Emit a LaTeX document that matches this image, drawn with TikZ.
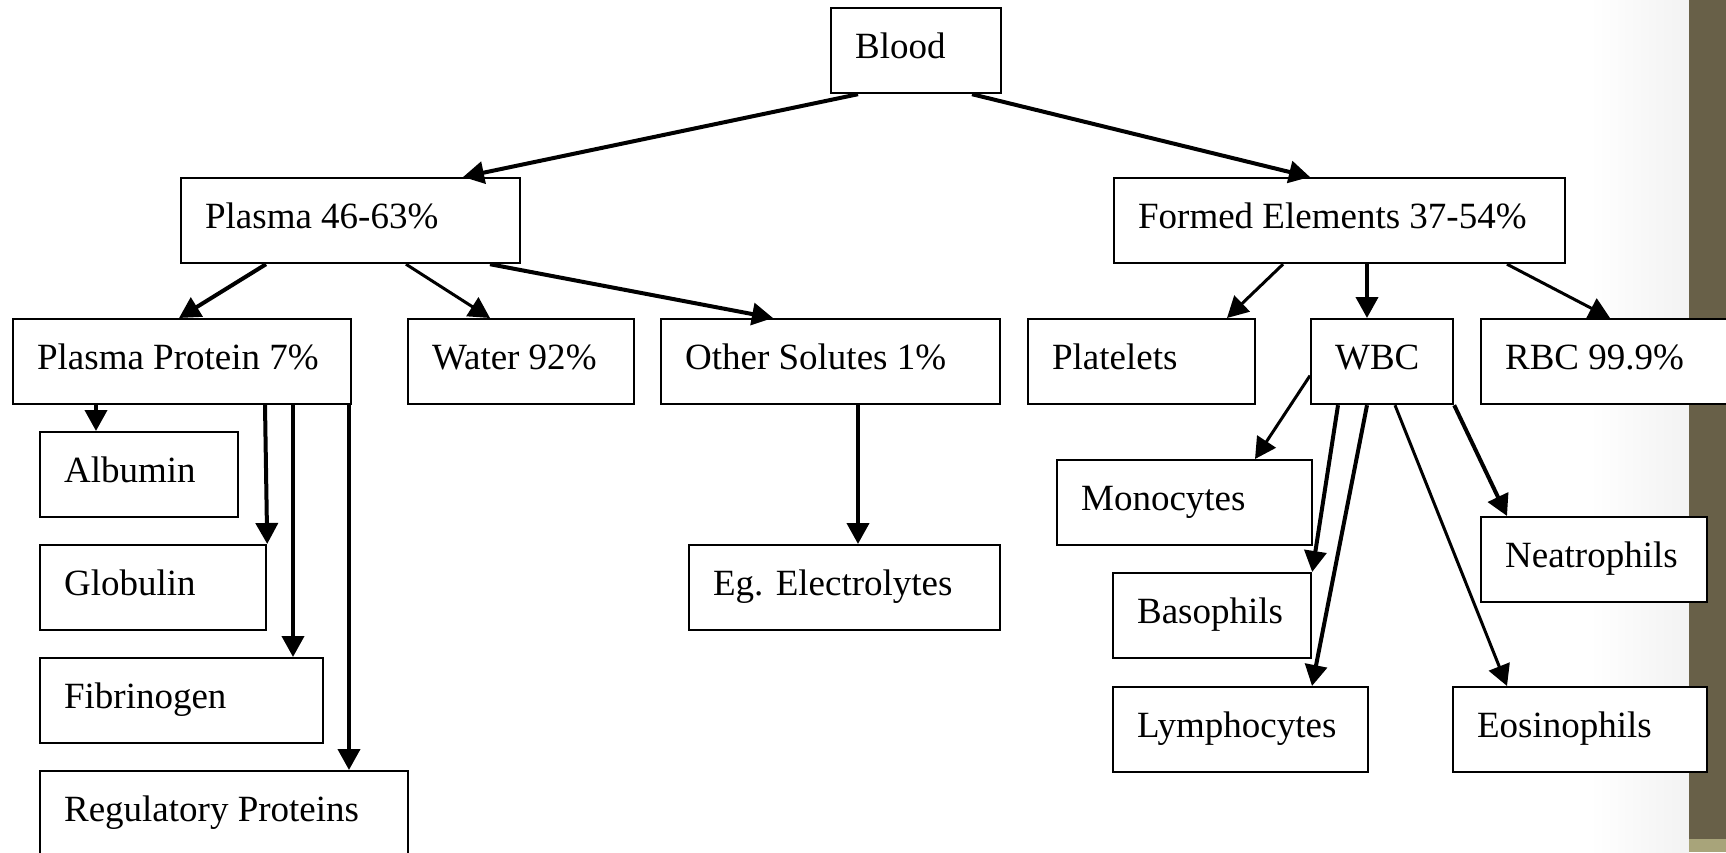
\documentclass[tikz,border=0pt]{standalone}
\usepackage{fontspec}
\setmainfont{Liberation Serif}
\usetikzlibrary{arrows.meta}
\definecolor{oliveA}{RGB}{104,96,72}
\definecolor{oliveB}{RGB}{168,164,122}
\tikzset{
  box/.style={draw, fill=white, line width=2.2pt, anchor=north west, inner xsep=24pt, inner ysep=0pt, minimum height=85pt, text height=25pt, text depth=10pt},
  arr/.style={-{Triangle[width=22pt,length=21pt]}, line width=4pt},
  arrthin/.style={-{Triangle[width=22pt,length=21pt]}, line width=3pt},
}
\newcommand\mkbox[5]{\node[box] (#1) at (#2,#3) {\hbox to \dimexpr#4pt-48pt\relax{#5\hfil}};}
\begin{document}
\begin{tikzpicture}[x=1pt,y=-1pt,font=\fontsize{37}{40}\selectfont]
\clip (0,0) rectangle (1726,852);
\fill[white] (0,0) rectangle (1726,852);
\shade[left color=white,right color=gray!10] (1590,0) rectangle (1689,852);
\fill[oliveA] (1689,0) rectangle (1726,852);
\fill[oliveB] (1689,839) rectangle (1726,852);

\mkbox{blood}{830}{7}{170}{Blood}
\mkbox{plasma}{180}{177}{339}{Plasma 46-63\%}
\mkbox{formed}{1113}{177}{451}{Formed Elements 37-54\%}
\mkbox{pprot}{12}{318}{338}{Plasma Protein 7\%}
\mkbox{water}{407}{318}{226}{Water 92\%}
\mkbox{other}{660}{318}{339}{Other Solutes 1\%}
\mkbox{platelets}{1027}{318}{227}{Platelets}
\mkbox{wbc}{1310}{318}{142}{WBC}
\mkbox{rbc}{1480}{318}{320}{RBC 99.9\%}
\mkbox{albumin}{39}{431}{198}{Albumin}
\mkbox{globulin}{39}{544}{226}{Globulin}
\mkbox{fibrinogen}{39}{657}{283}{Fibrinogen}
\mkbox{regulatory}{39}{770}{368}{Regulatory Proteins}
\mkbox{electrolytes}{688}{544}{311}{Eg. Electrolytes}
\mkbox{monocytes}{1056}{459}{255}{Monocytes}
\mkbox{basophils}{1112}{572}{198}{Basophils}
\mkbox{lymphocytes}{1112}{686}{255}{Lymphocytes}
\mkbox{neatrophils}{1480}{516}{226}{Neatrophils}
\mkbox{eosinophils}{1452}{686}{254}{Eosinophils}

\draw[arr] ([xshift=28pt]blood.south west) -- ([xshift=283pt]plasma.north west);
\draw[arr] ([xshift=142pt]blood.south west) -- ([xshift=197pt]formed.north west);
\draw[arr] ([xshift=86pt]plasma.south west) -- ([xshift=167pt]pprot.north west);
\draw[arrthin] ([xshift=226pt]plasma.south west) -- ([xshift=83pt]water.north west);
\draw[arr] ([xshift=310pt]plasma.south west) -- ([xshift=113pt]other.north west);
\draw[arrthin] ([xshift=170pt]formed.south west) -- ([xshift=200pt]platelets.north west);
\draw[arr] ([xshift=254pt]formed.south west) -- ([xshift=57pt]wbc.north west);
\draw[arrthin] ([xshift=394pt]formed.south west) -- ([xshift=130pt]rbc.north west);
\draw[arr] ([xshift=84pt]pprot.south west) -- ([xshift=57pt]albumin.north west);
\draw[arr] ([xshift=253pt]pprot.south west) -- (globulin.north east);
\draw[arr] ([xshift=281pt]pprot.south west) -- ([xshift=254pt]fibrinogen.north west);
\draw[arr] ([xshift=337pt]pprot.south west) -- ([xshift=310pt]regulatory.north west);
\draw[arr] ([xshift=198pt]other.south west) -- ([xshift=170pt]electrolytes.north west);
\draw[arrthin] ([yshift=-14pt]wbc.west) -- ([xshift=199pt]monocytes.north west);
\draw[arr] ([xshift=28pt]wbc.south west) -- (basophils.north east);
\draw[arr] ([xshift=57pt]wbc.south west) -- ([xshift=200pt]lymphocytes.north west);
\draw[arrthin] ([xshift=85pt]wbc.south west) -- ([xshift=55pt]eosinophils.north west);
\draw[arr] (wbc.south east) -- ([xshift=27pt]neatrophils.north west);
\end{tikzpicture}
\end{document}
